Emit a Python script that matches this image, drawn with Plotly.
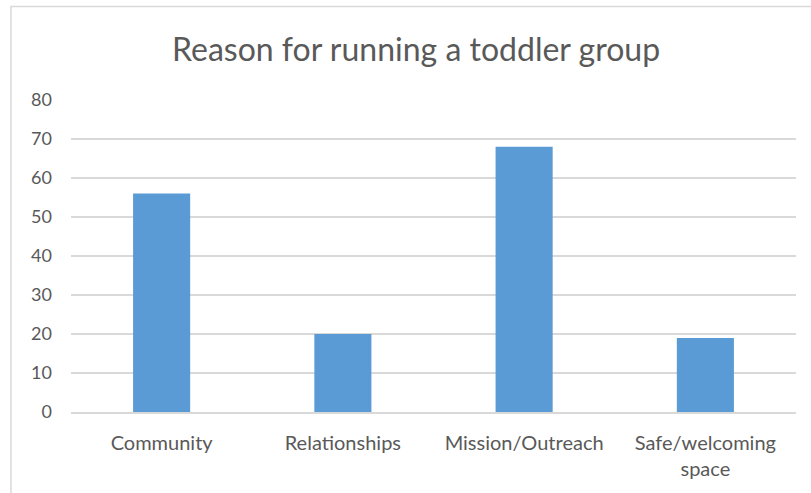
import plotly.graph_objects as go

# Survey results: reasons given for running a toddler group
categories = ["Community", "Relationships", "Mission/Outreach", "Safe/welcoming<br>space"]
counts = [56, 20, 68, 19]
y_ticks = [0, 10, 20, 30, 40, 50, 60, 70, 80]

TEXT = "#595959"
GRID = "#d9d9d9"
BAR = "#5b9bd5"
FONT = "Lato, 'Open Sans', sans-serif"

fig = go.Figure(
    go.Bar(
        x=categories,
        y=counts,
        marker=dict(color=BAR, line=dict(width=0)),
        hoverinfo="x+y",
    )
)

fig.update_layout(
    width=811,
    height=493,
    margin=dict(l=71, r=15, t=100, b=81),
    paper_bgcolor="white",
    plot_bgcolor="white",
    bargap=0.685,
    showlegend=False,
    font=dict(family=FONT, color=TEXT, size=20),
    title=dict(
        text="Reason for running a toddler group",
        x=0.513,
        xanchor="center",
        y=0.898,
        yanchor="middle",
        font=dict(family=FONT, size=32, color=TEXT),
    ),
    shapes=[
        # chart frame (left and top edges visible)
        dict(type="rect", xref="paper", yref="paper",
             x0=-0.0828, x1=1.2, y0=-0.6, y1=1.3,
             line=dict(color=GRID, width=1.5), layer="below"),
    ],
)

fig.update_xaxes(
    showgrid=False,
    showline=True,
    linecolor=GRID,
    linewidth=1.5,
    ticks="",
    tickfont=dict(family=FONT, size=20, color=TEXT),
    ticklabelstandoff=12,
)

fig.update_yaxes(
    range=[0, 80],
    tickvals=y_ticks,
    showgrid=True,
    gridcolor=GRID,
    gridwidth=1.5,
    zeroline=False,
    showline=False,
    ticks="",
    tickfont=dict(family=FONT, size=18, color=TEXT),
    ticklabelstandoff=18,
)

fig.write_html("out.html")
